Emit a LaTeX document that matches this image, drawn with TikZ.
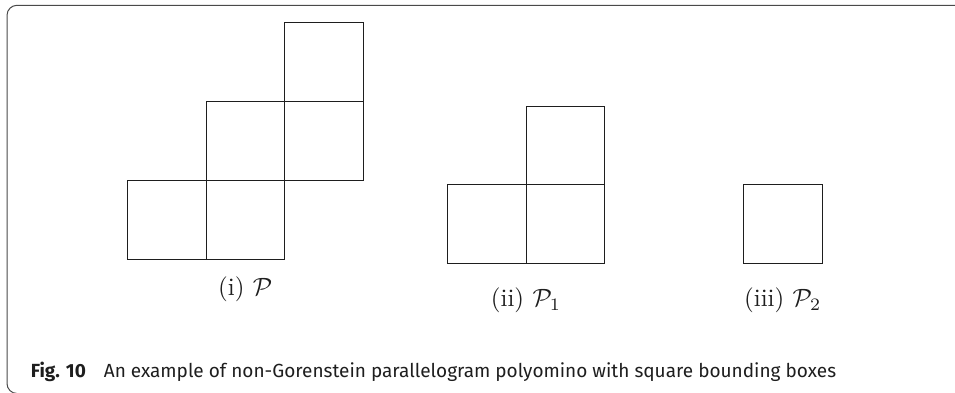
\documentclass[tikz,border=0pt]{standalone}
\definecolor{ink}  {HTML}{1E1E1E}
\definecolor{mute} {HTML}{4A4A4A}
\usepackage{amsmath}
\usepackage{graphicx}
\usepackage{fontspec}
\setsansfont{Fira Sans}
\usepackage{tikz}
\usetikzlibrary{positioning}
\newcommand{\sublbl}[1]{\scalebox{2.5}{\fontsize{10}{12}\selectfont #1}}
\tikzset{
  cell/.style={draw=ink,line width=0.9pt},
  outline/.style={draw=mute,line width=1pt,rounded corners=10pt},
  sublabel/.style={inner sep=0pt,text=ink},
  figcap/.style={inner sep=0pt,anchor=base west,text=ink,
                 font=\sffamily\fontsize{19}{23}\selectfont}
}

\begin{document}
\begin{tikzpicture}[x=1pt,y=-1pt]
    \useasboundingbox (0,0) rectangle (955,392);
    \clip (0,0) rectangle (955,392);
    \draw[outline] (7,5.3) rectangle (975,393.5);
    % (i) the polyomino
    \foreach \cx/\cy in {127.3/180.3,206/180.3,206/101.6,284.7/101.6,284.7/22.9}
      \draw[cell] (\cx,\cy) rectangle ++(78.7,78.7);
    % (ii) and (iii)
    \foreach \cx/\cy in {447.3/184.7,526/184.7,526/106,743.5/184.7}
      \draw[cell] (\cx,\cy) rectangle ++(78.7,78.7);
    \node[sublabel] (capP)  at (245.3,289) {\sublbl{(i)\ $\mathcal{P}$}};
    \node[sublabel] (capPa) at (526,300)   {\sublbl{(ii)\ $\mathcal{P}_1$}};
    \node[sublabel] (capPb) at (782.7,300) {\sublbl{(iii)\ $\mathcal{P}_2$}};
    \node[figcap] (figcap) at (30.7,377.7)
      {{\bfseries Fig. 10}\hspace{18pt}An example of non-Gorenstein parallelogram polyomino with square bounding boxes};
\end{tikzpicture}
\end{document}
